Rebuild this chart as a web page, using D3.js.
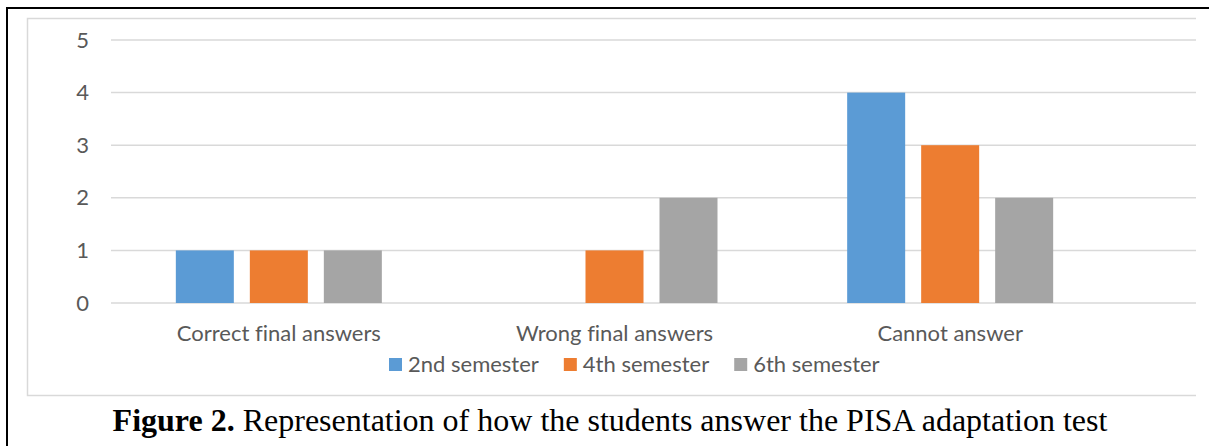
<!DOCTYPE html>
<html>
<head>
<meta charset="utf-8">
<script src="https://cdn.jsdelivr.net/npm/d3@7"></script>
<style>
  body { margin: 0; background: #fff; }
  svg { display: block; }
  text { font-variant-ligatures: none; }
</style>
</head>
<body>
<script>
// Chart data
var categories = ["Correct final answers", "Wrong final answers", "Cannot answer"];
var seriesNames = ["2nd semester", "4th semester", "6th semester"];
var semester2 = [1, 0, 4];
var semester4 = [1, 1, 3];
var semester6 = [1, 2, 2];
var yTicks = [0, 1, 2, 3, 4, 5];
var colors = ["#5B9BD5", "#ED7D31", "#A5A5A5"];
var caption = "Representation of how the students answer the PISA adaptation test";

var seriesValues = [semester2, semester4, semester6];

var svgWidth = 1209;
var svgHeight = 446;

var svg = d3.select("body")
  .append("svg")
  .attr("width", svgWidth)
  .attr("height", svgHeight);

// Outer black frame (top and left edges show in the crop)
svg.append("line").attr("x1", 7).attr("x2", svgWidth).attr("y1", 8).attr("y2", 8)
  .attr("stroke", "#000").attr("stroke-width", 2);
svg.append("line").attr("x1", 7).attr("x2", 7).attr("y1", 7).attr("y2", svgHeight)
  .attr("stroke", "#000").attr("stroke-width", 2);

// Chart box border
svg.append("path")
  .attr("d", "M1196,18.5 H27.5 V395.5 H1196")
  .attr("fill", "none")
  .attr("stroke", "#d9d9d9")
  .attr("stroke-width", 1.5);

// Scales
var x0 = d3.scaleBand()
  .domain(categories)
  .range([111, 1118]);

var groupWidth = 206;
var x1 = d3.scaleBand()
  .domain(seriesNames)
  .range([0, groupWidth])
  .paddingInner(16 / 74);

var y = d3.scaleLinear()
  .domain([0, 5])
  .range([303, 40]);

// Gridlines
svg.append("g")
  .selectAll("line")
  .data(yTicks)
  .join("line")
  .attr("x1", 111)
  .attr("x2", 1196)
  .attr("y1", d => y(d))
  .attr("y2", d => y(d))
  .attr("stroke", "#d9d9d9")
  .attr("stroke-width", 1.5);

// Y axis labels
var leftAxis = d3.axisLeft(y).tickValues(yTicks).tickFormat(d3.format("d")).tickSize(0).tickPadding(0);
var yAxis = svg.append("g")
  .attr("transform", "translate(89,0)")
  .call(leftAxis);
yAxis.select(".domain").remove();
yAxis.selectAll("text")
  .attr("fill", "#595959")
  .style("font-family", "Lato, 'Open Sans', sans-serif")
  .style("font-size", "22px");

// Bars
var groups = svg.append("g")
  .selectAll("g")
  .data(categories)
  .join("g")
  .attr("transform", d => `translate(${x0(d) + (x0.bandwidth() - groupWidth) / 2},0)`);

groups.selectAll("rect")
  .data((d, i) => seriesNames.map((s, j) => ({ series: s, value: seriesValues[j][i], color: colors[j] })))
  .join("rect")
  .filter(d => d.value > 0)
  .attr("x", d => x1(d.series))
  .attr("width", x1.bandwidth())
  .attr("y", d => y(d.value))
  .attr("height", d => y(0) - y(d.value))
  .attr("fill", d => d.color);

// Category labels
var bottomAxis = d3.axisBottom(x0).tickSize(0).tickPadding(0);
var xAxis = svg.append("g")
  .attr("transform", "translate(0,325)")
  .call(bottomAxis);
xAxis.select(".domain").remove();
xAxis.selectAll("text")
  .attr("fill", "#595959")
  .attr("dy", "0.71em")
  .style("font-family", "Lato, 'Open Sans', sans-serif")
  .style("font-size", "22px");

// Legend
var legend = svg.append("g");
var legendX = 389;
seriesNames.forEach(function(name, i) {
  var item = legend.append("g").attr("transform", `translate(${legendX},358)`);
  item.append("rect")
    .attr("width", 13)
    .attr("height", 13)
    .attr("fill", colors[i]);
  var t = item.append("text")
    .attr("x", 19)
    .attr("y", 14)
    .attr("fill", "#595959")
    .style("font-family", "Lato, 'Open Sans', sans-serif")
    .style("font-size", "22px")
    .text(name);
  legendX += 19 + t.node().getComputedTextLength() + 25;
});

// Caption
var cap = svg.append("text")
  .attr("x", 610)
  .attr("y", 431)
  .attr("text-anchor", "middle")
  .attr("fill", "#000")
  .style("font-family", "'Liberation Serif', 'Times New Roman', serif")
  .style("font-size", "32px");
cap.append("tspan").attr("font-weight", "bold").text("Figure 2.");
cap.append("tspan").text(" " + caption);
</script>
</body>
</html>
